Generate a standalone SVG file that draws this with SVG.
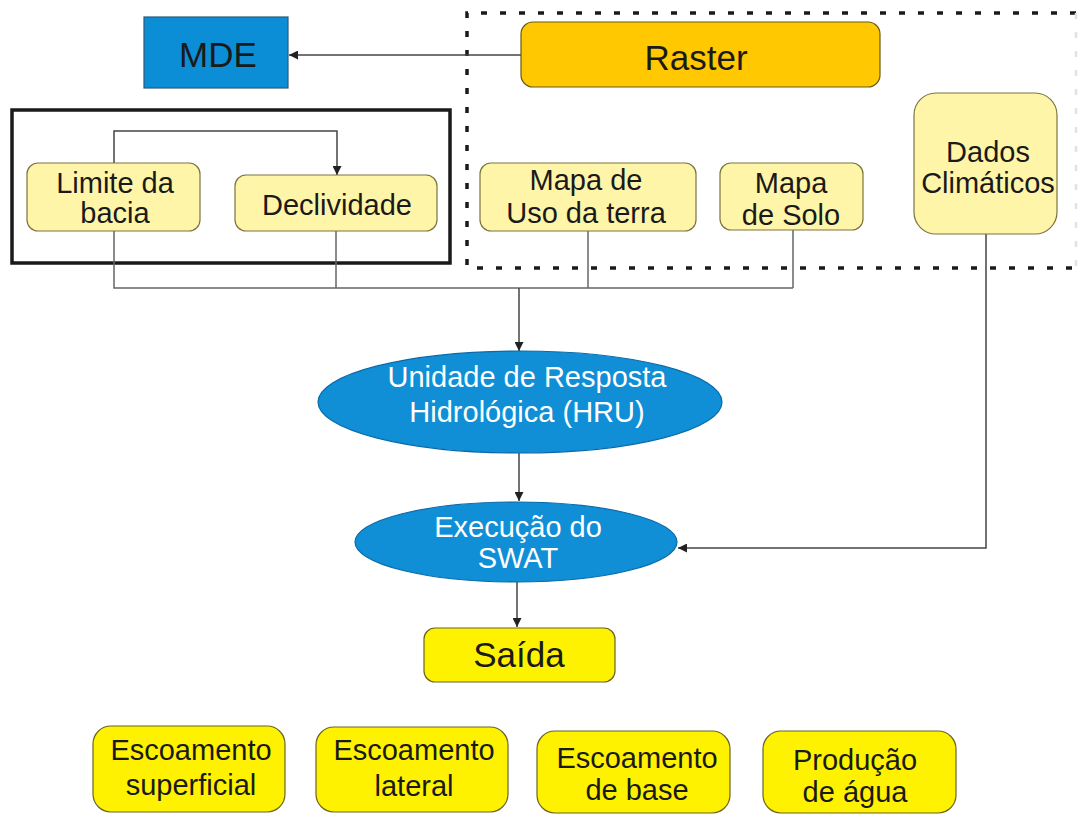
<svg xmlns="http://www.w3.org/2000/svg" width="1083" height="814" viewBox="0 0 1083 814">
<defs>
<marker id="ah" viewBox="0 0 10 10" refX="10" refY="5" markerWidth="9" markerHeight="9" markerUnits="userSpaceOnUse" orient="auto">
<path d="M0,0 L10,5 L0,10 z" fill="#222"/>
</marker>
<style>
text{font-family:"Liberation Sans",Arial,sans-serif;text-anchor:middle;fill:#1a1a1a}
.lt{fill:#fff5a8;stroke:#7a7440;stroke-width:1.2}
.yl{fill:#fff200;stroke:#6a6420;stroke-width:1.2}
.bl{fill:#108fd6;stroke:#0a6aa8;stroke-width:1.2}
.ln{fill:none;stroke:#666;stroke-width:1.5}
.ar{fill:none;stroke:#444;stroke-width:1.5;marker-end:url(#ah)}
.f28{font-size:29px}
.f29{font-size:29px}
.f32{font-size:35px}
.w{fill:#fff}
</style>
</defs>
<rect width="1083" height="814" fill="#fff"/>

<g id="frames">
<path d="M1076,13 H467 V268 H1076" fill="none" stroke="#1a1a1a" stroke-width="3.5" stroke-dasharray="6 13"/>
<path d="M1076,13 V268" fill="none" stroke="#e2e2e2" stroke-width="2.5" stroke-dasharray="6 13"/>
<rect x="12" y="110" width="438" height="153" fill="none" stroke="#1a1a1a" stroke-width="3.5"/>
</g>

<g id="connectors">
<line class="ar" x1="521" y1="55" x2="289" y2="55"/>
<polyline class="ar" points="114,163 114,131 337,131 337,175"/>
<polyline class="ln" points="114,231 114,288 793,288"/>
<line class="ln" x1="336" y1="231" x2="336" y2="288"/>
<line class="ln" x1="588" y1="231" x2="588" y2="288"/>
<line class="ln" x1="793" y1="230" x2="793" y2="288"/>
<line class="ar" x1="519" y1="288" x2="519" y2="351"/>
<line class="ar" x1="519" y1="453" x2="519" y2="501"/>
<polyline class="ar" points="986,234 986,548 678,548"/>
<line class="ar" x1="517" y1="582" x2="517" y2="627"/>
</g>

<g id="mde">
<rect x="144" y="17" width="144" height="71" fill="#0c8ed7" stroke="#2c5a78" stroke-width="1.2"/>
<text x="218" y="67" class="f32">MDE</text>
</g>

<g id="raster">
<rect x="521" y="22" width="359" height="65" rx="12" fill="#ffc800" stroke="#6a5a10" stroke-width="1.2"/>
<text x="696" y="70" class="f32">Raster</text>
</g>

<g id="limite">
<rect class="lt" x="27" y="163" width="173" height="68" rx="11"/>
<text x="115" y="193" class="f28">Limite da</text>
<text x="115" y="223" class="f28">bacia</text>
</g>

<g id="declividade">
<rect class="lt" x="235" y="175" width="202" height="56" rx="11"/>
<text x="337" y="215" class="f28">Declividade</text>
</g>

<g id="mapa-uso">
<rect class="lt" x="480" y="163" width="216" height="68" rx="11"/>
<text x="586" y="190" class="f28">Mapa de</text>
<text x="586" y="223" class="f28">Uso da terra</text>
</g>

<g id="mapa-solo">
<rect class="lt" x="720" y="163" width="143" height="67" rx="11"/>
<text x="791" y="193" class="f28">Mapa</text>
<text x="791" y="225" class="f28">de Solo</text>
</g>

<g id="dados">
<rect class="lt" x="914" y="93" width="143" height="141" rx="22"/>
<text x="988" y="162" class="f28">Dados</text>
<text x="988" y="193" class="f28">Climáticos</text>
</g>

<g id="hru">
<ellipse class="bl" cx="520" cy="402" rx="202" ry="51"/>
<text x="527" y="387" class="f29 w">Unidade de Resposta</text>
<text x="527" y="422" class="f29 w">Hidrológica (HRU)</text>
</g>

<g id="execucao">
<ellipse class="bl" cx="516" cy="542" rx="161" ry="40"/>
<text x="518" y="537" class="f29 w">Execução do</text>
<text x="518" y="568" class="f29 w">SWAT</text>
</g>

<g id="saida">
<rect class="yl" x="424" y="628" width="191" height="54" rx="11"/>
<text x="519" y="667" class="f32">Saída</text>
</g>

<g id="esc-superficial">
<rect class="yl" x="93" y="726" width="192" height="86" rx="18"/>
<text x="191" y="760" class="f28">Escoamento</text>
<text x="191" y="795" class="f28">superficial</text>
</g>

<g id="esc-lateral">
<rect class="yl" x="316" y="727" width="192" height="85" rx="18"/>
<text x="414" y="760" class="f28">Escoamento</text>
<text x="414" y="796" class="f28">lateral</text>
</g>

<g id="esc-base">
<rect class="yl" x="537" y="731" width="193" height="82" rx="18"/>
<text x="637" y="768" class="f28">Escoamento</text>
<text x="637" y="800" class="f28">de base</text>
</g>

<g id="producao">
<rect class="yl" x="763" y="731" width="193" height="82" rx="18"/>
<text x="855" y="770" class="f28">Produção</text>
<text x="855" y="802" class="f28">de água</text>
</g>
</svg>
